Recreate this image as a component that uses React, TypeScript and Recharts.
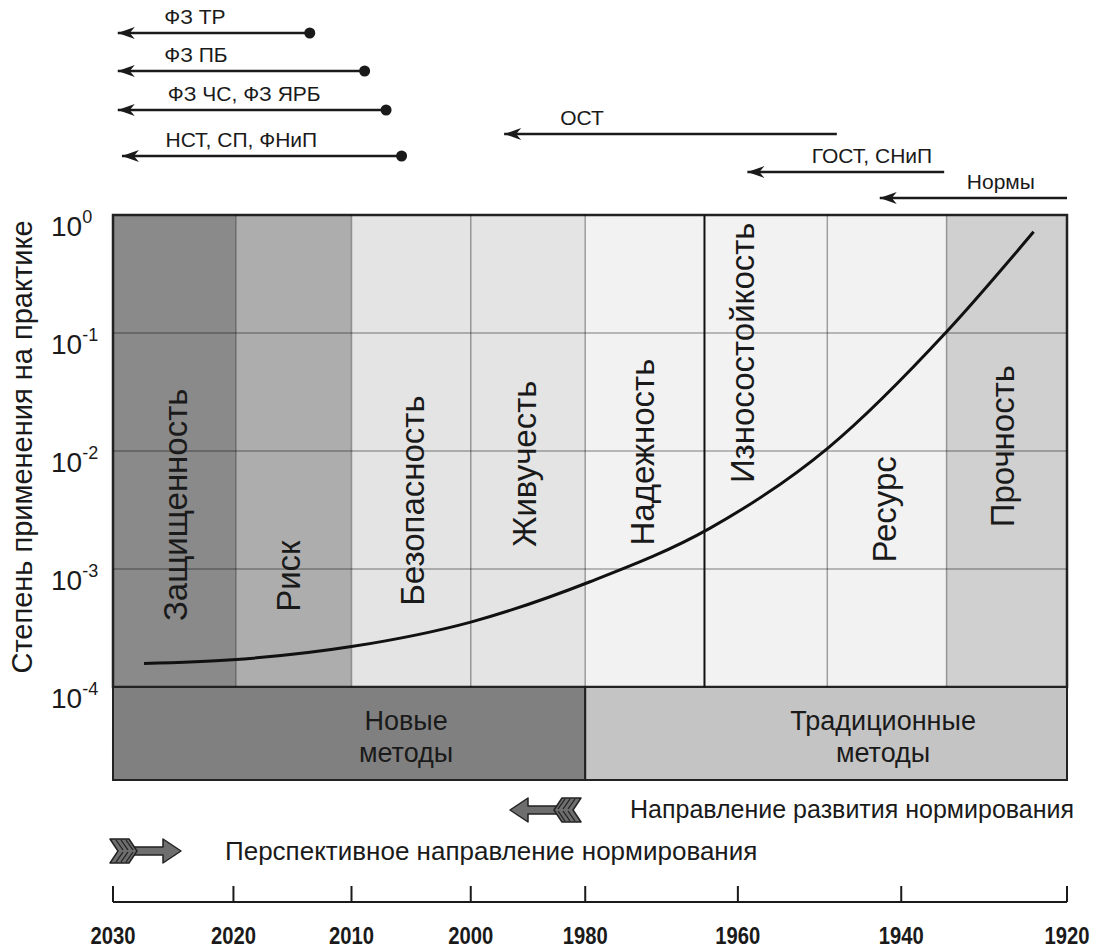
import React from "react";
import {
  ComposedChart, Line, Scatter, XAxis, YAxis,
  ReferenceArea, ReferenceLine,
} from "recharts";

const FONT = "'Liberation Sans', Arial, sans-serif";
const NARROW = "'Liberation Sans Narrow', 'Arial Narrow', 'Liberation Sans', sans-serif";
const W = 1099;
const MARGIN_L = 113;
const MARGIN_R = 32;
const INK = "#1a1a1a";

// columns along the development axis (position units 0..8)
const columns = [
  "Защищенность", "Риск", "Безопасность", "Живучесть",
  "Надежность", "Износостойкость", "Ресурс", "Прочность",
];
const columnEdges = [0, 1.03, 2.0, 3.0, 3.96, 4.96, 5.99, 6.99, 8];
const columnFill = ["#8a8a8a", "#adadad", "#e4e4e4", "#e4e4e4", "#f2f2f2", "#f2f2f2", "#f2f2f2", "#d0d0d0"];
const columnLabelX = [0.52, 1.47, 2.51, 3.45, 4.44, 5.28, 6.47, 7.46];
const columnLabelY = [3.5e-3, 8.7e-4, 3.8e-3, 7.8e-3, 9.8e-3, 6.8e-2, 3.2e-3, 1.1e-2];

// degree of practical use
const curveX = [0.26, 1.0, 2.0, 3.0, 4.0, 5.0, 6.0, 7.0, 7.72];
const curveY = [1.58e-4, 1.7e-4, 2.2e-4, 3.55e-4, 7.8e-4, 2.2e-3, 1.07e-2, 0.105, 0.72];

const yTicks = [1e-4, 1e-3, 1e-2, 1e-1, 1];

// normative documents (arrows at the top)
const normNames = ["ФЗ ТР", "ФЗ ПБ", "ФЗ ЧС, ФЗ ЯРБ", "НСТ, СП, ФНиП", "ОСТ", "ГОСТ, СНиП", "Нормы"];
const normStart = [1.65, 2.11, 2.29, 2.42, 6.07, 6.97, 8.0];
const normEnd = [0.04, 0.04, 0.04, 0.075, 3.28, 5.32, 6.43];
const normLane = [33, 71, 110, 156, 134, 172, 198];
const normDot = [true, true, true, true, false, false, false];
const normLabelX = [0.43, 0.43, 0.46, 0.44, 3.75, 5.86, 7.16];

// methods band
const methodNames = [["Новые", "методы"], ["Традиционные", "методы"]];
const methodFrom = [0, 3.96];
const methodTo = [3.96, 8];
const methodFill = ["#808080", "#c4c4c4"];

// timeline
const yearLabels = ["2030", "2020", "2010", "2000", "1980", "1960", "1940", "1920"];
const yearPos = [0, 1.01, 2.0, 3.0, 3.96, 5.24, 6.61, 8.0];

const curveData = curveX.map((x, i) => ({ x, y: curveY[i] }));
const columnLabels = columns.map((name, i) => ({ x: columnLabelX[i], y: columnLabelY[i], name }));
const normLabels = normNames.map((name, i) => ({ x: normLabelX[i], y: normLane[i] - 9, name }));
const yearData = yearPos.map((x, i) => ({ x, y: 215, year: yearLabels[i] }));

function PowTick({ x, y, payload }: any) {
  const exp = Math.round(Math.log10(payload.value));
  return (
    <text x={x - 62} y={y + 21} fontSize={28} fill={INK} fontFamily={FONT}>
      10<tspan dy={-13} fontSize={18}>{exp}</tspan>
    </text>
  );
}

function YearTick({ x, y, payload }: any) {
  const i = yearPos.indexOf(payload.value);
  return (
    <g>
      <line x1={x} x2={x} y1={y - 16} y2={y} stroke={INK} strokeWidth={2} />
      <text x={x} y={y + 42} textAnchor="middle" fontSize={24} fontWeight="bold"
        fontFamily={NARROW} fill={INK} textLength={45} lengthAdjust="spacingAndGlyphs">
        {yearLabels[i]}
      </text>
    </g>
  );
}

function ArrowIcon({ transform }: { transform: string }) {
  return (
    <g transform={transform} stroke="#222" strokeWidth={1.5} fill="#6e6e6e" strokeLinejoin="round">
      <path d="M72,12 L54,0 L54,8 L24,8 L24,16 L54,16 L54,24 Z" />
      <path d="M1,0 L20,0 L28,12 L20,24 L1,24 L9,12 Z" />
      <path d="M7,1 L14,11 M12,1 L19,11 M17,1 L24,11 M7,23 L14,13 M12,23 L19,13 M17,23 L24,13" fill="none" strokeWidth={1.3} />
    </g>
  );
}

export default function App() {
  return (
    <div style={{ position: "absolute", left: 0, top: 0, width: W, height: 948, background: "#fff", fontFamily: FONT }}>
      {/* normative documents */}
      <div style={{ position: "absolute", left: 0, top: 0 }}>
        <ComposedChart width={W} height={215} margin={{ top: 0, right: MARGIN_R, bottom: 0, left: MARGIN_L }}>
          <XAxis dataKey="x" type="number" domain={[0, 8]} hide />
          <YAxis dataKey="y" type="number" domain={[0, 215]} reversed hide />
          {normNames.map((name, i) => (
            <Line
              key={name}
              data={[{ x: normStart[i], y: normLane[i] }, { x: normEnd[i], y: normLane[i] }]}
              dataKey="y"
              stroke={INK}
              strokeWidth={2.5}
              isAnimationActive={false}
              dot={(p: any) => {
                if (p.index === 0 && normDot[i])
                  return <circle key={`s${i}`} cx={p.cx} cy={p.cy} r={5.5} fill={INK} />;
                if (p.index === 1)
                  return (
                    <path key={`e${i}`} fill={INK}
                      d={`M${p.cx},${p.cy} L${p.cx + 17},${p.cy - 6} L${p.cx + 12},${p.cy} L${p.cx + 17},${p.cy + 6} Z`} />
                  );
                return <g key={`n${i}${p.index}`} />;
              }}
            />
          ))}
          <Scatter
            data={normLabels}
            isAnimationActive={false}
            shape={(p: any) => (
              <text x={p.cx} y={p.cy} fontSize={21} fill={INK} fontFamily={FONT}>{p.payload.name}</text>
            )}
          />
        </ComposedChart>
      </div>

      {/* main plot */}
      <div style={{ position: "absolute", left: 0, top: 0 }}>
        <ComposedChart width={W} height={720} margin={{ top: 215, right: MARGIN_R, bottom: 33, left: 0 }}>
          <XAxis dataKey="x" type="number" domain={[0, 8]} hide />
          <YAxis
            dataKey="y" type="number" scale="log" domain={[1e-4, 1]} ticks={yTicks}
            allowDataOverflow width={MARGIN_L} axisLine={false} tickLine={false}
            tickSize={0} tickMargin={0} tick={PowTick} interval={0}
            label={{
              content: (p: any) => {
                const vb = p.viewBox;
                const cx = vb.x + 22;
                const cy = vb.y + vb.height / 2 - 4;
                return (
                  <text x={cx} y={cy} transform={`rotate(-90 ${cx} ${cy})`} textAnchor="middle"
                    dominantBaseline="central" fontSize={29} fill={INK} fontFamily={FONT}>
                    Степень применения на практике
                  </text>
                );
              },
            }}
          />
          {columns.map((c, i) => (
            <ReferenceArea key={c} x1={columnEdges[i]} x2={columnEdges[i + 1]} y1={1e-4} y2={1}
              fill={columnFill[i]} fillOpacity={1} stroke="none" />
          ))}
          {yTicks.slice(1, 4).map((t) => (
            <ReferenceLine key={t} y={t} stroke="rgba(0,0,0,0.33)" strokeWidth={1.5} />
          ))}
          {columnEdges.slice(1, 8).map((e, i) => (
            <ReferenceLine key={e} x={e}
              stroke={i === 4 ? "#111" : "rgba(0,0,0,0.35)"} strokeWidth={i === 4 ? 2 : 1.5} />
          ))}
          <ReferenceArea x1={0} x2={8} y1={1e-4} y2={1} fill="none" stroke="#222" strokeWidth={2.5} />
          <Scatter
            data={columnLabels}
            isAnimationActive={false}
            shape={(p: any) => (
              <text x={p.cx} y={p.cy} transform={`rotate(-90 ${p.cx} ${p.cy})`} textAnchor="middle"
                dominantBaseline="central" fontSize={33} fill={INK} fontFamily={FONT}>
                {p.payload.name}
              </text>
            )}
          />
          <Line data={curveData} dataKey="y" type="monotone" stroke="#111" strokeWidth={3}
            dot={false} isAnimationActive={false} />
        </ComposedChart>
      </div>

      {/* methods band and timeline */}
      <div style={{ position: "absolute", left: 0, top: 687 }}>
        <ComposedChart data={yearData} width={W} height={261} margin={{ top: 0, right: MARGIN_R, bottom: 0, left: MARGIN_L }}>
          <XAxis
            dataKey="x" type="number" domain={[0, 8]} ticks={yearPos} interval={0} height={46}
            tickSize={0} tickMargin={0} tickLine={false} tick={YearTick}
            axisLine={{ stroke: INK, strokeWidth: 2 }}
          />
          <YAxis dataKey="y" type="number" domain={[0, 215]} reversed hide />
          <Scatter dataKey="y" isAnimationActive={false} shape={() => <g />} />
          {methodNames.map((m, i) => (
            <ReferenceArea
              key={m[0]} x1={methodFrom[i]} x2={methodTo[i]} y1={0} y2={93}
              fill={methodFill[i]} fillOpacity={1} stroke="#222" strokeWidth={2}
              label={{
                content: (p: any) => {
                  const vb = p.viewBox;
                  const cx = vb.x + vb.width / 2 + 57;
                  return (
                    <text textAnchor="middle" fontSize={27} fill={INK} fontFamily={FONT}>
                      <tspan x={cx} y={vb.y + 43}>{m[0]}</tspan>
                      <tspan x={cx} y={vb.y + 75}>{m[1]}</tspan>
                    </text>
                  );
                },
              }}
            />
          ))}
        </ComposedChart>
      </div>

      {/* direction legend */}
      <svg width={W} height={948} style={{ position: "absolute", left: 0, top: 0, pointerEvents: "none" }}>
        <ArrowIcon transform="translate(582,798) scale(-1,1)" />
        <text x={630} y={818} fontSize={25} fill={INK} fontFamily={FONT}>Направление развития нормирования</text>
        <ArrowIcon transform="translate(109,839)" />
        <text x={225} y={860} fontSize={26} fill={INK} fontFamily={FONT}>Перспективное направление нормирования</text>
      </svg>
    </div>
  );
}
